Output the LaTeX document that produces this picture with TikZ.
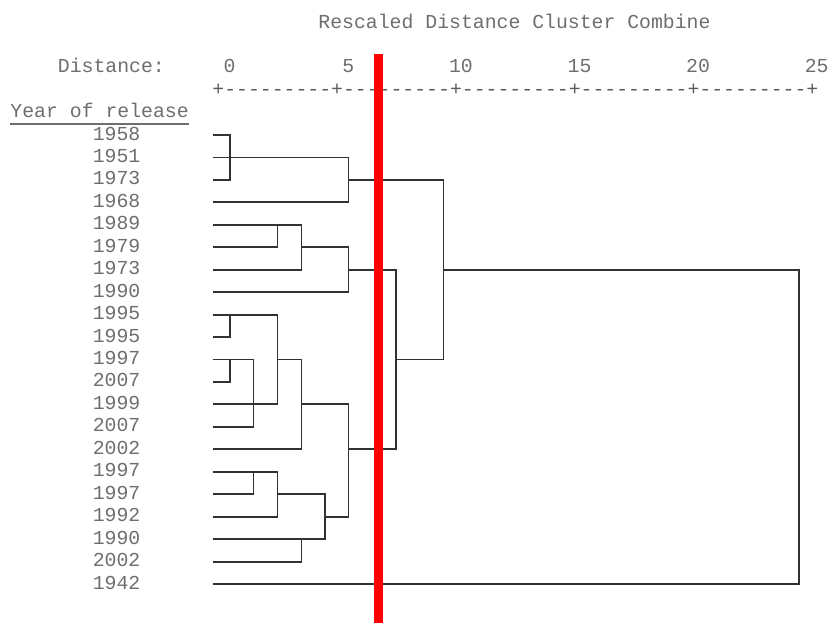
\documentclass[tikz,border=0pt]{standalone}
\usepackage{fontspec}
\setmonofont{Liberation Mono}
\usetikzlibrary{calc}

\definecolor{txtgray}{RGB}{110,110,110}
\definecolor{linegray}{RGB}{50,50,50}
\tikzset{
  spss/.style={font=\ttfamily\fontsize{9.9}{11.2}\selectfont, text=txtgray, inner sep=0pt},
  branch/.style={draw=linegray, line width=0.95pt},
  cutline/.style={draw=red, line width=4.5pt}
}

\begin{document}
\begin{tikzpicture}[x=0.5pt, y=-0.5pt]
\useasboundingbox (0,0) rectangle (830,623);
% The header lines, set on the
% same text grid as the table
\node[spss, anchor=base] (title) at (514.5,28.5) {Rescaled Distance Cluster Combine};
\node[spss, anchor=base west] (dist) at (57.5,72.5) {Distance:};
\foreach \d [count=\k from 0] in {0,5,10,15,20,25} {
    \node[spss, anchor=base east] (tick\k) at ({236+118.6*\k},72.5) {\d};
}
\node[spss, anchor=base west, text=linegray!80] (axis) at (212,95) {+---------+---------+---------+---------+---------+};
\node[spss, anchor=base] (head) at (99.6,117.5) {Year of release};
\draw[txtgray, line width=0.6pt] ($(head.base west)+(0,6.5)$) -- ($(head.base east)+(0,6.5)$);
% One label per case, and the
% point where its leaf begins
\foreach \yr [count=\i] in {1958,1951,1973,1968,1989,1979,1973,1990,1995,1995,1997,2007,1999,2007,2002,1997,1997,1992,1990,2002,1942} {
    \node[spss, anchor=base east] (yr\i) at (140.7,{140+22.45*(\i-1)}) {\yr};
    \coordinate (l\i) at (212.7,{135+22.45*(\i-1)});
}
% The distances at which clusters join
\foreach \c/\x in {a/230,b/253.5,c/277.5,d/301.5,e/325,f/348.5,g/396,h/443.5,i/799} {
    \coordinate (c\c) at (\x,89);
}
% First group
\draw[branch] (l1) -| (l3-|ca) -- (l3);
\draw[branch] (l2) -| (l4-|cf) -- (l4);
% Second group
\draw[branch] (l5) -| (l7-|cd) -- (l7);
\draw[branch] (l5-|cc) -- (l6-|cc) -- (l6);
\draw[branch] (l6-|cd) -| (l8-|cf) -- (l8);
% Third group
\draw[branch] (l9) -| (l13-|cc) -- (l13);
\draw[branch] (l9-|ca) -- (l10-|ca) -- (l10);
\draw[branch] (l11) -| (l14-|cb) -- (l14);
\draw[branch] (l11-|ca) -- (l12-|ca) -- (l12);
\draw[branch] (l11-|cc) -| (l15-|cd) -- (l15);
\draw[branch] (l13-|cd) -| (l18-|cf) -- (l18-|ce);
% Fourth group
\draw[branch] (l16) -| (l18-|cc) -- (l18);
\draw[branch] (l16-|cb) -- (l17-|cb) -- (l17);
\draw[branch] (l17-|cc) -| (l19-|ce) -- (l19);
\draw[branch] (l19-|cd) -- (l20-|cd) -- (l20);
% The upper levels of the tree
\draw[branch] (l7-|cf) -| (l15-|cg) -- (l15-|cf);
\draw[branch] (l3-|cf) -| (l11-|ch) -- (l11-|cg);
\draw[branch] (l7-|ch) -| (l21-|ci) -- (l21);
% Where the tree is cut
\coordinate (cuttop) at (378.5,54);
\coordinate (cutbot) at (378.5,623);
\draw[cutline] (cuttop) -- (cutbot);
\end{tikzpicture}
\end{document}
